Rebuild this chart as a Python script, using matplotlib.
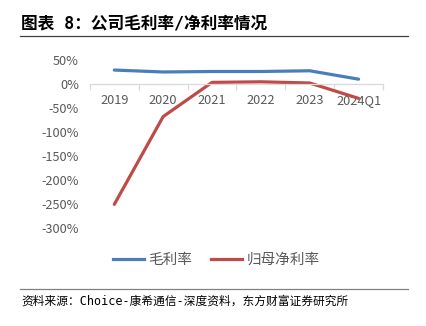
import matplotlib
matplotlib.use("Agg")
import matplotlib.pyplot as plt
from matplotlib.lines import Line2D

plt.rcParams['font.family'] = ['Noto Sans CJK SC', 'DejaVu Sans']

categories = ["2019", "2020", "2021", "2022", "2023", "2024Q1"]
gross_margin = [29, 25, 26, 26, 27.5, 10]
net_margin = [-251, -68, 3.3, 4.5, 2, -30]
yticks = [50, 0, -50, -100, -150, -200, -250, -300]
series_names = ["毛利率", "归母净利率"]
title = "图表 8：公司毛利率/净利率情况"
source = "资料来源：Choice-康希通信-深度资料，东方财富证券研究所"

blue = "#4A7EBB"
red = "#BE4B48"
gray = "#595959"
mono_cjk = ['DejaVu Sans Mono', 'Noto Sans CJK SC']

fig = plt.figure(figsize=(4.26, 3.26), dpi=100)
fig.patch.set_facecolor("white")

# Title and rules
fig.text(0.05, 0.928, title, fontsize=12, fontweight="bold", color="black",
         va="center", ha="left", family=mono_cjk)
fig.add_artist(Line2D([0.047, 0.958], [0.889, 0.889], color="#404040", lw=0.9))
fig.add_artist(Line2D([0.047, 0.958], [0.113, 0.113], color="#808080", lw=0.9))
fig.text(0.05, 0.077, source, fontsize=8.45, color="black", va="center", ha="left",
         family=mono_cjk)

ax = fig.add_axes([0.211, 0.301, 0.688, 0.515])
x = list(range(len(categories)))
ax.plot(x, gross_margin, color=blue, lw=2.3, solid_capstyle="round")
ax.plot(x, net_margin, color=red, lw=2.3, solid_capstyle="round")

ax.set_xlim(-0.5, len(categories) - 0.5)
ax.set_ylim(-300, 50)
ax.set_yticks(yticks)
ax.set_yticklabels([f"{v}%" for v in yticks])
for s in ["top", "right", "left"]:
    ax.spines[s].set_visible(False)
ax.spines["bottom"].set_position(("data", 0))
ax.spines["bottom"].set_color("#D9D9D9")
ax.spines["bottom"].set_linewidth(0.9)
ax.tick_params(axis="y", length=0, labelsize=9.2, labelcolor=gray, pad=8)
ax.set_xticks([i - 0.5 for i in range(len(categories) + 1)])
ax.set_xticklabels([])
ax.set_xticks(x, minor=True)
ax.set_xticklabels(categories, minor=True)
ax.tick_params(axis="x", which="major", length=4, color="#D9D9D9", width=0.9)
ax.tick_params(axis="x", which="minor", length=0, labelsize=9.2, labelcolor=gray, pad=7)

handles = [Line2D([0], [0], color=blue, lw=2.3), Line2D([0], [0], color=red, lw=2.3)]
fig.legend(handles, series_names, loc="center", bbox_to_anchor=(0.508, 0.203), ncol=2,
           frameon=False, fontsize=10.5, labelcolor=gray, handlelength=2.1, columnspacing=1.3,
           handletextpad=0.3)

fig.savefig("out.png", dpi=100, facecolor="white")
